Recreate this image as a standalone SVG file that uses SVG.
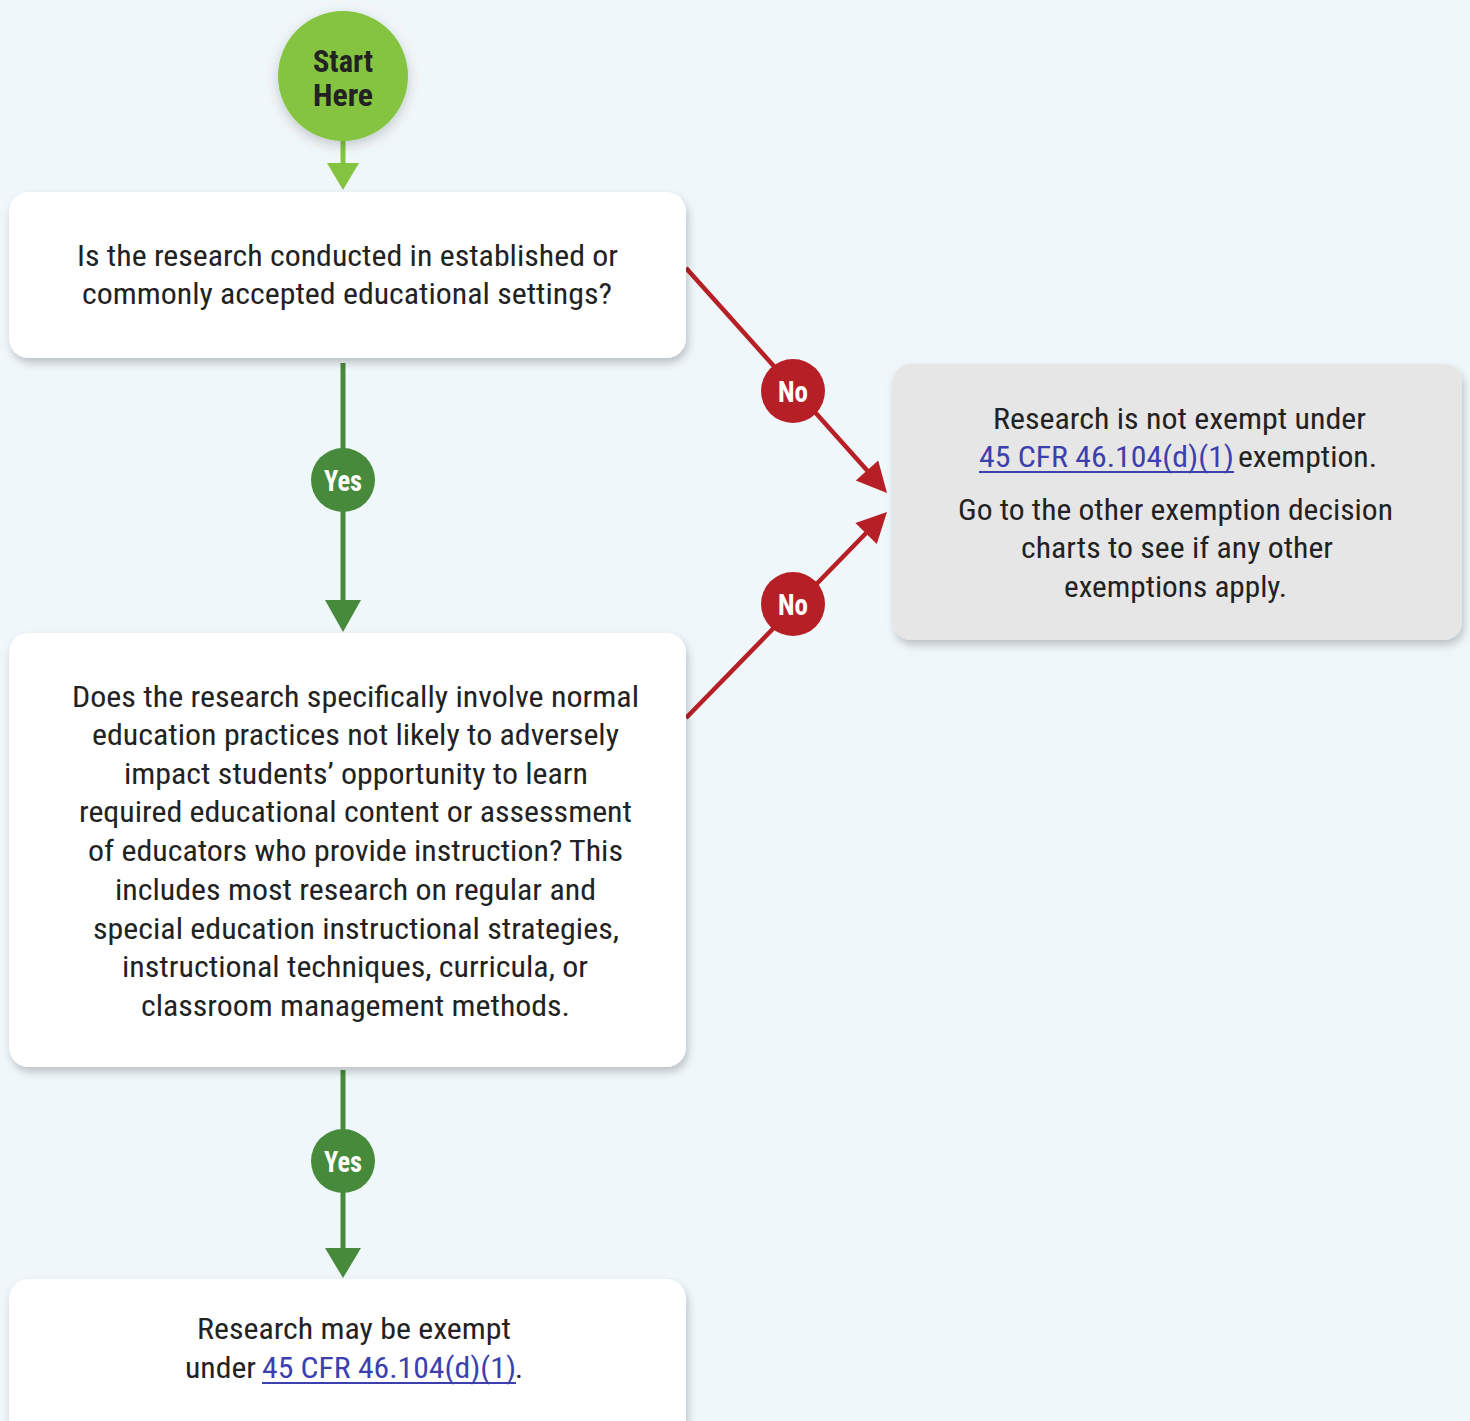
<svg xmlns="http://www.w3.org/2000/svg" width="1470" height="1421" viewBox="0 0 1470 1421">
<defs>
<filter id="sh" x="-10%" y="-10%" width="120%" height="130%">
<feDropShadow dx="2" dy="5" stdDeviation="4" flood-color="#000" flood-opacity="0.22"/>
</filter>
<filter id="csh" x="-30%" y="-30%" width="160%" height="160%">
<feDropShadow dx="0" dy="4" stdDeviation="6" flood-color="#000" flood-opacity="0.2"/>
</filter>
<style>
.t{font-family:"Roboto Condensed",Roboto,"Liberation Sans",sans-serif;font-size:30px;fill:#222}
.lk{fill:#3c3fae}
.b{font-family:"Roboto Condensed",Roboto,"Liberation Sans",sans-serif;font-weight:bold}
.red{stroke:#b71f26;stroke-width:4.5;fill:none}
.grn{stroke:#478a3c;stroke-width:5;fill:none}
.box{fill:#fff;filter:url(#sh)}
</style>
</defs>
<rect width="1470" height="1421" fill="#f0f7fb"/>

<g id="connectors">
<line x1="343" y1="140" x2="343" y2="168" stroke="#84c441" stroke-width="5"/>
<polygon points="327,163 359,163 343,190" fill="#84c441"/>
<line class="grn" x1="343" y1="363" x2="343" y2="605"/>
<polygon points="325,600 361,600 343,632" fill="#478a3c"/>
<line class="grn" x1="343" y1="1070" x2="343" y2="1252"/>
<polygon points="325,1248 361,1248 343,1278" fill="#478a3c"/>
<line class="red" x1="686" y1="268" x2="873" y2="477"/>
<polygon points="887,493 855.8,480.6 878.2,460.6" fill="#b71f26"/>
<line class="red" x1="686" y1="718" x2="872" y2="527"/>
<polygon points="887,512 876.8,544 855.4,523" fill="#b71f26"/>
<g id="yes1"><circle cx="343" cy="480" r="32" fill="#478a3c"/><text class="b" x="343" y="491" font-size="29" fill="#fff" text-anchor="middle" textLength="38" lengthAdjust="spacingAndGlyphs">Yes</text></g>
<g id="yes2"><circle cx="343" cy="1161" r="32" fill="#478a3c"/><text class="b" x="343" y="1172" font-size="29" fill="#fff" text-anchor="middle" textLength="38" lengthAdjust="spacingAndGlyphs">Yes</text></g>
<g id="no1"><circle cx="793" cy="391" r="32" fill="#b71f26"/><text class="b" x="793" y="402" font-size="29" fill="#fff" text-anchor="middle" textLength="30" lengthAdjust="spacingAndGlyphs">No</text></g>
<g id="no2"><circle cx="793" cy="604" r="32" fill="#b71f26"/><text class="b" x="793" y="615" font-size="29" fill="#fff" text-anchor="middle" textLength="30" lengthAdjust="spacingAndGlyphs">No</text></g>
</g>

<g id="start">
<circle cx="343" cy="76" r="74" fill="none" stroke="#f4f4f4" stroke-width="3" stroke-dasharray="10 7"/>
<circle cx="343" cy="76" r="65" fill="#84c441" filter="url(#csh)"/>
<text class="b" x="343" y="72" font-size="31" fill="#222" text-anchor="middle" textLength="60" lengthAdjust="spacingAndGlyphs">Start</text>
<text class="b" x="343" y="106" font-size="31" fill="#222" text-anchor="middle" textLength="60" lengthAdjust="spacingAndGlyphs">Here</text>
</g>

<g id="q1">
<rect class="box" x="9" y="192" width="677" height="166" rx="20"/>
<text class="t" x="77" y="266" textLength="541" lengthAdjust="spacingAndGlyphs">Is the research conducted in established or</text>
<text class="t" x="82" y="304" textLength="530" lengthAdjust="spacingAndGlyphs">commonly accepted educational settings?</text>
</g>

<g id="q2">
<rect class="box" x="9" y="633" width="677" height="434" rx="20"/>
<text class="t" x="72" y="707" textLength="567" lengthAdjust="spacingAndGlyphs">Does the research specifically involve normal</text>
<text class="t" x="92" y="745" textLength="527" lengthAdjust="spacingAndGlyphs">education practices not likely to adversely</text>
<text class="t" x="124" y="784" textLength="464" lengthAdjust="spacingAndGlyphs">impact students’ opportunity to learn</text>
<text class="t" x="79" y="822" textLength="553" lengthAdjust="spacingAndGlyphs">required educational content or assessment</text>
<text class="t" x="88" y="861" textLength="535" lengthAdjust="spacingAndGlyphs">of educators who provide instruction? This</text>
<text class="t" x="115" y="900" textLength="481" lengthAdjust="spacingAndGlyphs">includes most research on regular and</text>
<text class="t" x="93" y="939" textLength="526" lengthAdjust="spacingAndGlyphs">special education instructional strategies,</text>
<text class="t" x="122" y="977" textLength="466" lengthAdjust="spacingAndGlyphs">instructional techniques, curricula, or</text>
<text class="t" x="141" y="1016" textLength="429" lengthAdjust="spacingAndGlyphs">classroom management methods.</text>
</g>

<g id="exempt">
<rect class="box" x="9" y="1279" width="677" height="170" rx="20"/>
<text class="t" x="197" y="1339" textLength="314" lengthAdjust="spacingAndGlyphs">Research may be exempt</text>
<text class="t" x="185" y="1378" textLength="71" lengthAdjust="spacingAndGlyphs">under</text>
<text class="t lk" x="262" y="1378" textLength="254" lengthAdjust="spacingAndGlyphs">45 CFR 46.104(d)(1)</text>
<rect x="262" y="1382" width="254" height="2" fill="#3c3fae"/>
<text class="t" x="515" y="1378">.</text>
</g>

<g id="notexempt">
<rect class="box" x="893" y="364" width="569" height="276" rx="18" style="fill:#e6e6e6"/>
<text class="t" x="993" y="429" textLength="373" lengthAdjust="spacingAndGlyphs">Research is not exempt under</text>
<text class="t lk" x="979" y="467" textLength="255" lengthAdjust="spacingAndGlyphs">45 CFR 46.104(d)(1)</text>
<rect x="979" y="471" width="255" height="2" fill="#3c3fae"/>
<text class="t" x="1238" y="467" textLength="139" lengthAdjust="spacingAndGlyphs">exemption.</text>
<text class="t" x="958" y="520" textLength="435" lengthAdjust="spacingAndGlyphs">Go to the other exemption decision</text>
<text class="t" x="1021" y="558" textLength="312" lengthAdjust="spacingAndGlyphs">charts to see if any other</text>
<text class="t" x="1064" y="597" textLength="223" lengthAdjust="spacingAndGlyphs">exemptions apply.</text>
</g>
</svg>
